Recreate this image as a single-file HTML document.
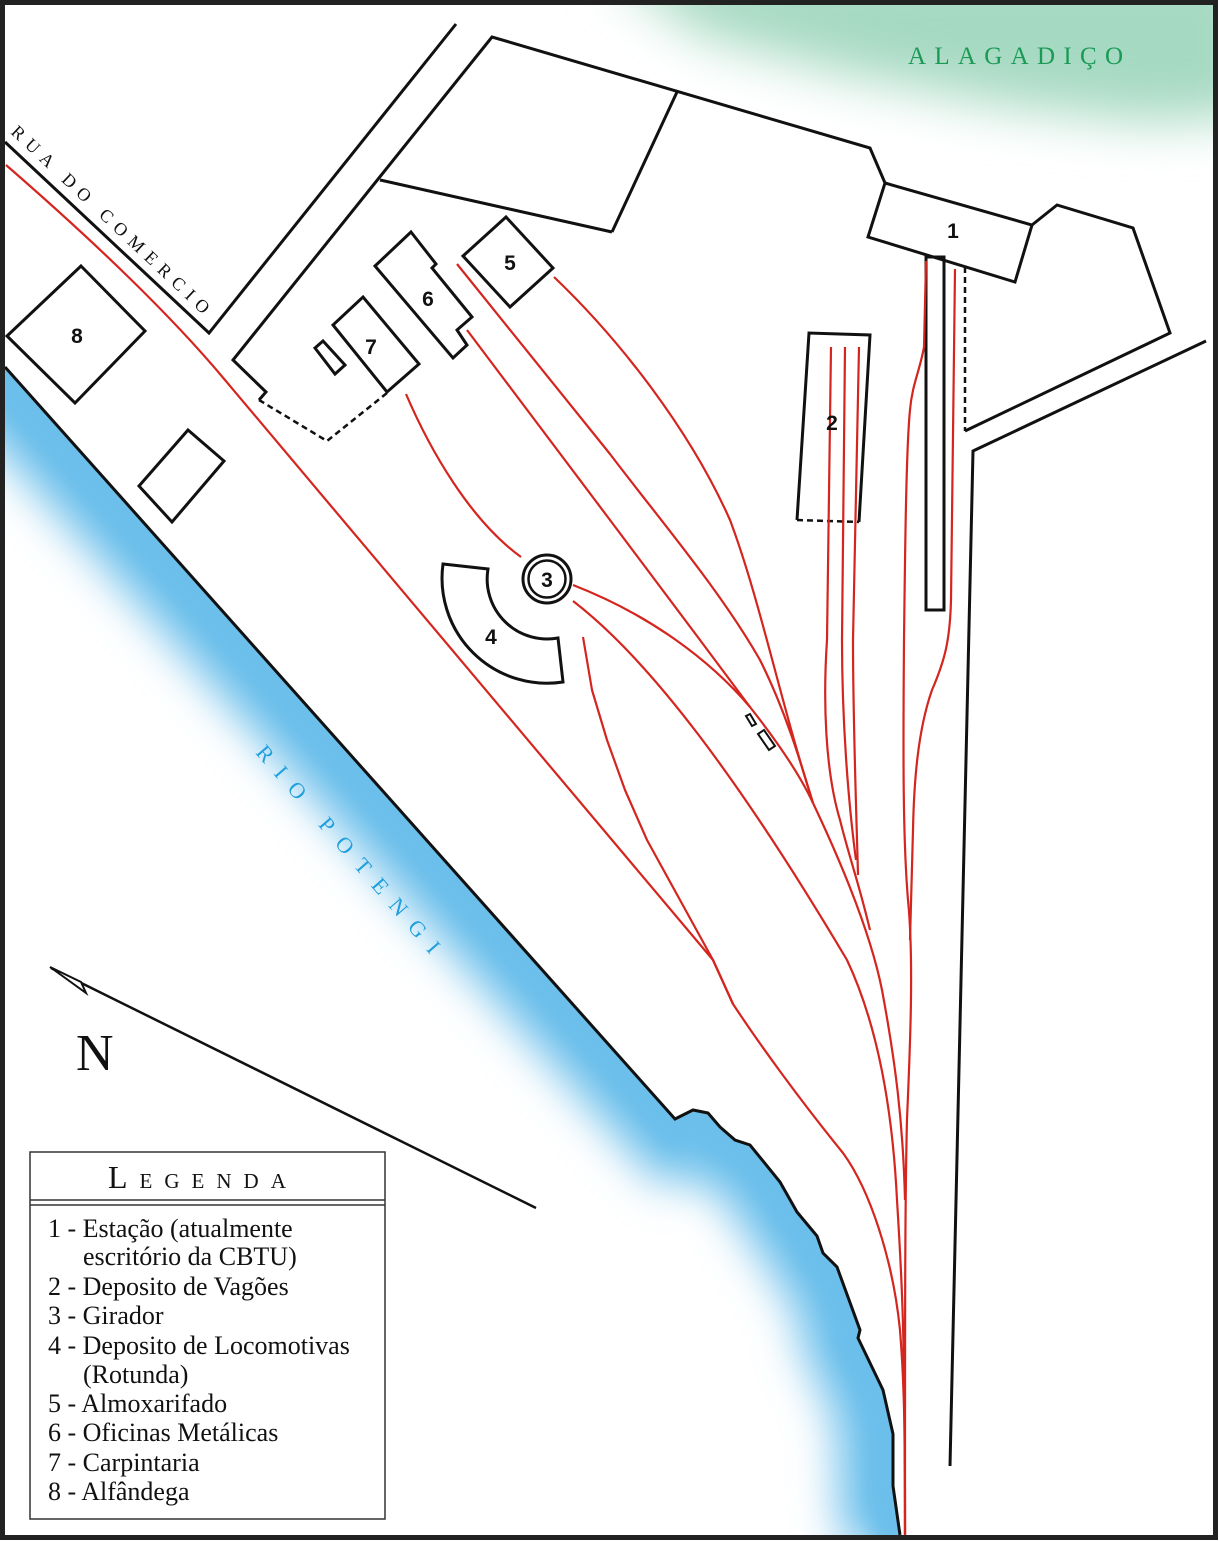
<!DOCTYPE html>
<html><head><meta charset="utf-8"><style>
html,body{margin:0;padding:0;background:#fff}
svg{display:block}
</style></head><body>
<svg width="1219" height="1541" viewBox="0 0 1219 1541" xmlns="http://www.w3.org/2000/svg">
<defs>
<filter id="bl" x="-30%" y="-30%" width="160%" height="160%"><feGaussianBlur stdDeviation="22"/></filter>
<filter id="bls" x="-30%" y="-30%" width="160%" height="160%"><feGaussianBlur stdDeviation="8"/></filter>
<filter id="bl2" x="-30%" y="-50%" width="160%" height="200%"><feGaussianBlur stdDeviation="26"/></filter>
<clipPath id="land"><path d="M5,367 L675,1119 L693,1110 L708,1113 L720,1127 L735,1140 L750,1145 L780,1182 L797,1212 L817,1236 L823,1253 L837,1267 L860,1330 L858,1338 L883,1390 L893,1434 L893,1486 L900,1535 L0,1541 L0,367 Z"/></clipPath>
<clipPath id="frame"><rect x="4" y="4" width="1211" height="1533"/></clipPath>
</defs>
<rect width="1219" height="1541" fill="#fff"/>
<g clip-path="url(#frame)">
<path d="M600,-40 L1260,-40 L1260,115 L1150,122 L1000,105 L850,75 L700,35 Z" fill="#a6d9c2" filter="url(#bl2)"/>
</g>
<g clip-path="url(#land)">
<path d="M-20,345 L675,1119 L693,1110 L708,1113 L720,1127 L735,1140 L750,1145 L780,1182 L797,1212 L817,1236 L823,1253 L837,1267 L860,1330 L858,1338 L883,1390 L893,1434 L893,1486 L900,1545" fill="none" stroke="#6cbfeb" stroke-width="110" filter="url(#bl)"/>
<path d="M-20,345 L675,1119 L693,1110 L708,1113 L720,1127 L735,1140 L750,1145 L780,1182 L797,1212 L817,1236 L823,1253 L837,1267 L860,1330 L858,1338 L883,1390 L893,1434 L893,1486 L900,1545" fill="none" stroke="#6cbfeb" stroke-width="50" filter="url(#bls)"/>
</g>
<path d="M5,367 L675,1119 L693,1110 L708,1113 L720,1127 L735,1140 L750,1145 L780,1182 L797,1212 L817,1236 L823,1253 L837,1267 L860,1330 L858,1338 L883,1390 L893,1434 L893,1486 L900,1535" fill="none" stroke="#111" stroke-width="3"/>

<g fill="none" stroke="#111" stroke-width="3" stroke-linejoin="miter">
<polyline points="5,142 209,333 456,24"/>
<polyline points="612,232 677,92"/>
<polyline points="380,180 612,232"/>
<polyline points="259,400 266,392 233,360 492,37 870,148 885,183"/>
<polyline points="1032,225 1057,205 1133,228 1170,333 965,431"/>
<polyline points="1206,341 973,451 950,1466"/>
<polygon points="885,183 1032,225 1015,282 868,237"/>
<rect x="926" y="257" width="18" height="353"/>
<polyline points="797,520 809,333 870,335 859,522"/>
<polygon points="506,217 553,268 510,307 463,256"/>
<polygon points="411,232 436,264 432,268 472,317 457,330 467,345 453,358 375,266"/>
<polygon points="363,297 419,364 387,392 333,325"/>
<polygon points="315,348 323,341 345,365 335,374"/>
<polygon points="81,266 145,331 75,403 7,336"/>
<polygon points="188,430 224,461 172,522 139,486"/>
<path d="M443,564 L488,569 A60,60 0 0 0 558,638 L563,682 A105,105 0 0 1 443,564 Z"/>
</g>
<g fill="none" stroke="#111" stroke-width="2.5" stroke-dasharray="6,4">
<polyline points="259,400 327,441 387,393"/>
<line x1="965" y1="267" x2="965" y2="431"/>
<line x1="797" y1="520" x2="859" y2="522"/>
</g>
<circle cx="547" cy="579" r="24" fill="#fff" stroke="#111" stroke-width="3"/>
<circle cx="547" cy="579" r="18.5" fill="none" stroke="#111" stroke-width="2.5"/>
<g stroke="#111" stroke-width="2" fill="#fff">
<polygon points="746,716 750,714 756,724 752,726"/>
<polygon points="758,734 764,730 775,746 769,750"/>
</g>

<g fill="none" stroke="#d4251f" stroke-width="2.2" stroke-linejoin="round">
<path d="M6,165 Q150,290 225,380 L713,960 L733,1004 C760,1045 800,1100 843,1153 C870,1190 893,1260 900,1330 C904,1380 905,1420 905,1535"/>
<polyline points="583,637 592,690 607,740 625,790 647,840 680,900 713,960 733,1004"/>
<path d="M406,394 C430,450 470,520 521,557"/>
<path d="M573,585 C650,615 710,660 750,707 C780,745 800,775 813,803"/>
<path d="M467,330 L610,520 L700,640 L750,707"/>
<path d="M457,264 L610,454 C660,520 720,590 760,660 C785,710 800,760 813,803"/>
<path d="M554,277 C620,340 690,430 730,520 C760,600 780,700 813,803"/>
<path d="M813,803 C840,860 870,930 882,990 C895,1060 903,1120 905,1200"/>
<path d="M573,601 C650,660 740,780 847,960 C880,1030 893,1120 897,1200 C902,1280 905,1330 905,1535"/>
<path d="M831,347 L827,640 C823,700 825,770 840,820 C850,860 858,880 870,930"/>
<path d="M845,347 L842,640 C842,720 848,800 856,860"/>
<path d="M859,347 L853,640 C853,720 856,800 858,875"/>
<path d="M926,261 L924,347 C920,370 912,385 910,410 C906,450 905,560 904,640 C903,760 903,840 908,900 C914,960 910,1050 907,1119 C905,1200 905,1300 905,1535"/>
<path d="M955,269 L951,600 C950,640 945,660 932,690 C918,730 914,780 913,830 C912,870 911,900 910,940"/>
</g>

<line x1="51" y1="968" x2="536" y2="1208" stroke="#111" stroke-width="2.5"/>
<polygon points="50,967 86,993 81,982" fill="#fff" stroke="#111" stroke-width="2"/>
<text x="76" y="1070" font-family="Liberation Serif, serif" font-size="52" fill="#111">N</text>

<g font-family="Liberation Sans, sans-serif" font-weight="bold" font-size="21" fill="#111" text-anchor="middle">
<text x="953" y="238">1</text>
<text x="832" y="430">2</text>
<text x="547" y="587">3</text>
<text x="491" y="644">4</text>
<text x="510" y="270">5</text>
<text x="428" y="306">6</text>
<text x="371" y="354">7</text>
<text x="77" y="343">8</text>
</g>
<text x="908" y="64" font-family="Liberation Serif, serif" font-size="25" fill="#1a9a55" letter-spacing="8.3">ALAGADIÇO</text>
<text transform="translate(10,133) rotate(43.3)" font-family="Liberation Serif, serif" font-size="18" fill="#111" letter-spacing="7">RUA DO COMERCIO</text>
<text transform="translate(255,753) rotate(49)" font-family="Liberation Serif, serif" font-size="22" fill="#1f9fdd" letter-spacing="13">RIO POTENGI</text>

<rect x="30" y="1152" width="355" height="367" fill="#fff" stroke="#333" stroke-width="1.5"/>
<line x1="30" y1="1200" x2="385" y2="1200" stroke="#333" stroke-width="1.5"/>
<line x1="30" y1="1205" x2="385" y2="1205" stroke="#333" stroke-width="1.5"/>
<text x="108" y="1188" font-family="Liberation Serif, serif" fill="#111" letter-spacing="12"><tspan font-size="32">L</tspan><tspan font-size="21">EGENDA</tspan></text>
<g font-family="Liberation Serif, serif" font-size="26" fill="#111">
<text x="48" y="1237">1 - Estação (atualmente</text>
<text x="83" y="1265">escritório da CBTU)</text>
<text x="48" y="1295">2 - Deposito de Vagões</text>
<text x="48" y="1324">3 - Girador</text>
<text x="48" y="1354">4 - Deposito de Locomotivas</text>
<text x="83" y="1383">(Rotunda)</text>
<text x="48" y="1412">5 - Almoxarifado</text>
<text x="48" y="1441">6 - Oficinas Metálicas</text>
<text x="48" y="1471">7 - Carpintaria</text>
<text x="48" y="1500">8 - Alfândega</text>
</g>

<rect x="2.5" y="2.5" width="1213" height="1535" fill="none" stroke="#222" stroke-width="5"/>
</svg>
</body></html>
